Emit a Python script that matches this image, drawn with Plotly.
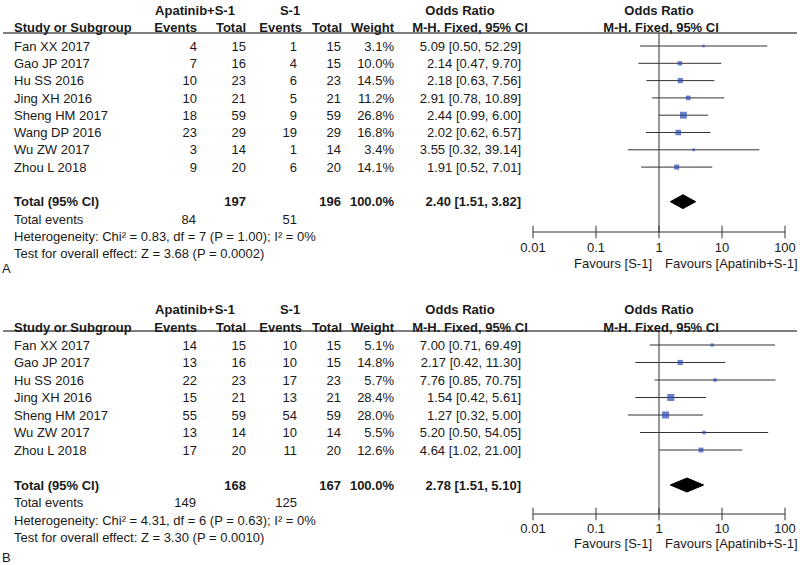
import plotly.graph_objects as go
import math

W, H = 800, 565
OFF = 0      # page body margin is removed below, so screen pixels == figure pixels
TDY = 1.4    # plotly centres text glyphs slightly above the anchor; compensate

# ---------------- Panel A data ----------------
a_studies = ["Fan XX 2017", "Gao JP 2017", "Hu SS 2016", "Jing XH 2016",
             "Sheng HM 2017", "Wang DP 2016", "Wu ZW 2017", "Zhou L 2018"]
a_exp_events = [4, 7, 10, 10, 18, 23, 3, 9]
a_exp_total = [15, 16, 23, 21, 59, 29, 14, 20]
a_ctl_events = [1, 4, 6, 5, 9, 19, 1, 6]
a_ctl_total = [15, 15, 23, 21, 59, 29, 14, 20]
a_weight = [3.1, 10.0, 14.5, 11.2, 26.8, 16.8, 3.4, 14.1]
a_or = [5.09, 2.14, 2.18, 2.91, 2.44, 2.02, 3.55, 1.91]
a_lo = [0.50, 0.47, 0.63, 0.78, 0.99, 0.62, 0.32, 0.52]
a_hi = [52.29, 9.70, 7.56, 10.89, 6.00, 6.57, 39.14, 7.01]
a_sum_total = [197, 196]
a_sum_events = [84, 51]
a_pooled = [2.40, 1.51, 3.82]
a_het = "Heterogeneity: Chi\u00b2 = 0.83, df = 7 (P = 1.00); I\u00b2 = 0%"
a_test = "Test for overall effect: Z = 3.68 (P = 0.0002)"

# ---------------- Panel B data ----------------
b_studies = ["Fan XX 2017", "Gao JP 2017", "Hu SS 2016", "Jing XH 2016",
             "Sheng HM 2017", "Wu ZW 2017", "Zhou L 2018"]
b_exp_events = [14, 13, 22, 15, 55, 13, 17]
b_exp_total = [15, 16, 23, 21, 59, 14, 20]
b_ctl_events = [10, 10, 17, 13, 54, 10, 11]
b_ctl_total = [15, 15, 23, 21, 59, 14, 20]
b_weight = [5.1, 14.8, 5.7, 28.4, 28.0, 5.5, 12.6]
b_or = [7.00, 2.17, 7.76, 1.54, 1.27, 5.20, 4.64]
b_lo = [0.71, 0.42, 0.85, 0.42, 0.32, 0.50, 1.02]
b_hi = [69.49, 11.30, 70.75, 5.61, 5.00, 54.05, 21.00]
b_sum_total = [168, 167]
b_sum_events = [149, 125]
b_pooled = [2.78, 1.51, 5.10]
b_het = "Heterogeneity: Chi\u00b2 = 4.31, df = 6 (P = 0.63); I\u00b2 = 0%"
b_test = "Test for overall effect: Z = 3.30 (P = 0.0010)"

tick_vals = [0.01, 0.1, 1, 10, 100]
tick_text = ["0.01", "0.1", "1", "10", "100"]
fav_left = "Favours [S-1]"
fav_right = "Favours [Apatinib+S-1]"

FONT = "Arial, Liberation Sans, sans-serif"
TXT = "#1a1a1a"
FS = 13
SQ = "#2B49B0"
LN = "#333333"

fig = go.Figure()

texts = {"left": [], "right": [], "center": []}
btexts = {"left": [], "right": [], "center": []}
rules = []


def fx(sx):
    return (sx - OFF) / W


def fy(sy):
    return 1 - (sy - OFF) / H


def txt(x, y, s, anchor="left", bold=False):
    (btexts if bold else texts)[anchor].append((x, y + TDY, s))


def panel(idx, cfg, studies, ee, et, ce, ct, wt, orr, lo, hi, sum_total, sum_events, pooled, het, test, letter):
    y0, dy = cfg["y0"], cfg["dy"]
    row = lambda r: y0 + dy * r
    txt(195, cfg["h1"], "Apatinib+S-1", "center", True)
    txt(290, cfg["h1"], "S-1", "center", True)
    txt(460, cfg["h1"], "Odds Ratio", "center", True)
    txt(659, cfg["h1"], "Odds Ratio", "center", True)
    txt(14, cfg["h2"], "Study or Subgroup", "left", True)
    txt(197, cfg["h2"], "Events", "right", True)
    txt(246, cfg["h2"], "Total", "right", True)
    txt(302, cfg["h2"], "Events", "right", True)
    txt(342, cfg["h2"], "Total", "right", True)
    txt(394, cfg["h2"], "Weight", "right", True)
    txt(470, cfg["h2"], "M-H. Fixed, 95% CI", "center", True)
    txt(661, cfg["h2"], "M-H. Fixed, 95% CI", "center", True)
    rules.append(cfg["under"])
    n = len(studies)
    for i in range(n):
        y = row(i)
        txt(14, y, studies[i])
        txt(197, y, str(ee[i]), "right")
        txt(246, y, str(et[i]), "right")
        txt(297, y, str(ce[i]), "right")
        txt(341, y, str(ct[i]), "right")
        txt(394, y, "%.1f%%" % wt[i], "right")
        txt(521, y, "%.2f [%.2f, %.2f]" % (orr[i], lo[i], hi[i]), "right")
    rt = n + 1
    txt(14, row(rt), "Total (95% CI)", "left", True)
    txt(246, row(rt), str(sum_total[0]), "right", True)
    txt(341, row(rt), str(sum_total[1]), "right", True)
    txt(394, row(rt), "100.0%", "right", True)
    txt(521, row(rt), "%.2f [%.2f, %.2f]" % tuple(pooled), "right", True)
    txt(14, row(rt + 1), "Total events")
    txt(196, row(rt + 1), str(sum_events[0]), "right")
    txt(297, row(rt + 1), str(sum_events[1]), "right")
    txt(14, row(rt + 2), het)
    txt(14, row(rt + 3), test)
    txt(2, cfg["letter"], letter)
    txt(652, cfg["fav"], fav_left, "right")
    txt(665, cfg["fav"], fav_right, "left")

    r_top = (cfg["under"] - y0) / dy
    r_axis = (cfg["axis"] - y0) / dy
    r_lab = (cfg["tick"] + TDY - y0) / dy
    r_end = (cfg["bottom"] - y0) / dy
    xa = "x" if idx == 1 else "x%d" % idx
    ya = "y" if idx == 1 else "y%d" % idx
    common = dict(xaxis=xa, yaxis=ya, showlegend=False, hoverinfo="skip", cliponaxis=False)
    # line of no effect
    fig.add_trace(go.Scatter(x=[1, 1], y=[r_top, r_axis], mode="lines",
                             line=dict(color=LN, width=1), **common))
    # confidence intervals
    cx, cy = [], []
    for i in range(n):
        cx += [lo[i], hi[i], None]
        cy += [i, i, None]
    fig.add_trace(go.Scatter(x=cx, y=cy, mode="lines", line=dict(color=LN, width=1), **common))
    # study squares
    fig.add_trace(go.Scatter(x=orr, y=list(range(n)), mode="markers",
                             marker=dict(symbol="square", color=SQ,
                                         size=[1.25 * math.sqrt(w) + 0.4 for w in wt], line=dict(width=0)),
                             **common))
    # pooled diamond
    h = 0.4
    fig.add_trace(go.Scatter(x=[pooled[1], pooled[0], pooled[2], pooled[0], pooled[1]],
                             y=[rt, rt - h, rt, rt + h, rt], mode="lines", fill="toself",
                             fillcolor="black", line=dict(color="black", width=1), **common))
    # axis line, crossing ticks and labels
    fig.add_trace(go.Scatter(x=[tick_vals[0], tick_vals[-1]], y=[r_axis, r_axis], mode="lines",
                             line=dict(color=LN, width=1), **common))
    fig.add_trace(go.Scatter(x=tick_vals, y=[r_axis] * len(tick_vals), mode="markers",
                             marker=dict(symbol="line-ns", size=9, line=dict(color=LN, width=1)), **common))
    fig.add_trace(go.Scatter(x=tick_vals, y=[r_lab] * len(tick_vals), mode="text", text=tick_text,
                             textposition="middle center",
                             textfont=dict(family=FONT, size=FS, color=TXT), **common))
    xkey = "xaxis" if idx == 1 else "xaxis%d" % idx
    ykey = "yaxis" if idx == 1 else "yaxis%d" % idx
    fig.layout[xkey] = dict(type="log", range=[-2, 2], domain=[fx(533), fx(785)], anchor=ya,
                            visible=False, showgrid=False, zeroline=False, fixedrange=True)
    fig.layout[ykey] = dict(range=[r_end, r_top],
                            domain=[max(0, fy(cfg["bottom"])), fy(cfg["under"])],
                            anchor=xa, visible=False, showgrid=False, zeroline=False, fixedrange=True)


cfgA = dict(y0=46, dy=17.3, h1=10, h2=27, under=33, axis=232, tick=247, fav=263, letter=268, bottom=282)
cfgB = dict(y0=345, dy=17.5, h1=309, h2=327, under=331, axis=514, tick=528, fav=543, letter=557, bottom=565)

panel(1, cfgA, a_studies, a_exp_events, a_exp_total, a_ctl_events, a_ctl_total, a_weight,
      a_or, a_lo, a_hi, a_sum_total, a_sum_events, a_pooled, a_het, a_test, "A")
panel(2, cfgB, b_studies, b_exp_events, b_exp_total, b_ctl_events, b_ctl_total, b_weight,
      b_or, b_lo, b_hi, b_sum_total, b_sum_events, b_pooled, b_het, b_test, "B")

# header rules on the screen-pixel overlay axis
rx, ry = [], []
for u in rules:
    rx += [3, 797, None]
    ry += [u, u, None]
fig.add_trace(go.Scatter(x=rx, y=ry, mode="lines", xaxis="x3", yaxis="y3",
                         line=dict(color="#555555", width=1.5), showlegend=False, hoverinfo="skip",
                         cliponaxis=False))

pos = {"left": "middle right", "right": "middle left", "center": "middle center"}
for group in (texts, btexts):
    bold = group is btexts
    for anchor, items in group.items():
        if not items:
            continue
        fig.add_trace(go.Scatter(
            x=[t[0] for t in items], y=[t[1] for t in items],
            text=[("<b>%s</b>" % t[2]) if bold else t[2] for t in items],
            mode="text", textposition=pos[anchor], xaxis="x3", yaxis="y3",
            textfont=dict(family=FONT, size=FS, color=TXT),
            cliponaxis=False, showlegend=False, hoverinfo="skip"))

fig.update_layout(
    width=W, height=H, margin=dict(l=0, r=0, t=0, b=0, autoexpand=False),
    paper_bgcolor="white", plot_bgcolor="rgba(0,0,0,0)", showlegend=False,
    font=dict(family=FONT, size=FS, color=TXT), hovermode=False,
    xaxis3=dict(domain=[0, 1], range=[OFF, W + OFF], visible=False, fixedrange=True, anchor="y3"),
    yaxis3=dict(domain=[0, 1], range=[H + OFF, OFF], visible=False, fixedrange=True, anchor="x3"),
)
fig.write_html("out.html", config={"displayModeBar": False, "staticPlot": True},
               post_script="document.body.style.margin='0px';")
